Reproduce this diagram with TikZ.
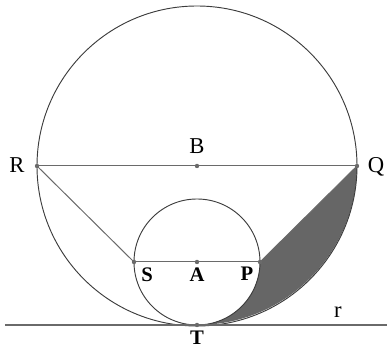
\documentclass[tikz,border=0pt]{standalone}
\usepackage{fontspec}
\setmainfont{Liberation Serif}
\usepackage{tikz}
\usetikzlibrary{calc}
\definecolor{GeoLine}{HTML}{3C3C3C}
\definecolor{GeoChord}{HTML}{6A6A6A}
\definecolor{GeoFill}{HTML}{666666}
\tikzset{
  circline/.style={draw=GeoLine,line width=0.7pt},
  chordline/.style={draw=GeoChord,line width=0.75pt},
  tangline/.style={draw=GeoChord,line width=1pt},
  ptdot/.style={fill=GeoChord},
  ptlabel/.style={font=\fontsize{17}{19}\selectfont,inner sep=0pt},
  ptlabelb/.style={font=\fontsize{15.5}{18}\selectfont\bfseries,inner sep=0pt}
}

\begin{document}
\begin{tikzpicture}[x=0.75pt,y=0.75pt]
\useasboundingbox (0,0) rectangle (387,349);
\coordinate (B) at (197,183);
\coordinate (R) at (37,183);
\coordinate (Q) at (357,183);
\coordinate (A) at (197,87);
\coordinate (S) at (134,87);
\coordinate (P) at (260,87);
\coordinate (T) at (197,24);
\coordinate (rL) at (5,24);
\coordinate (rR) at (387,24);
% shaded part
\fill[GeoFill] (Q) -- (P) arc[start angle=0,end angle=-90,radius=63]
  arc[start angle=-90,end angle=0,radius=160] -- cycle;
\draw[circline] (B) circle[radius=160];
\draw[circline] (A) circle[radius=63];
\draw[tangline] (rL) -- (rR);
\draw[chordline] (R) -- (Q);
\draw[chordline] (R) -- (S);
\draw[chordline] (S) -- (P);
\draw[chordline] (P) -- (Q);
\foreach \p in {B,R,Q,A,S,P,T} \fill[ptdot] (\p) circle (2.2);
\node[ptlabel] (lR) at (17,184) {R};
\node[ptlabel] (lQ) at (376,182) {Q};
\node[ptlabel] (lB) at (197,203) {B};
\node[ptlabel] (lr) at (338,37) {r};
\node[ptlabelb] (lS) at (147,74) {S};
\node[ptlabelb] (lA) at (197,74) {A};
\node[ptlabelb] (lP) at (247,75) {P};
\node[ptlabelb] (lT) at (197,11) {T};
\end{tikzpicture}
\end{document}
